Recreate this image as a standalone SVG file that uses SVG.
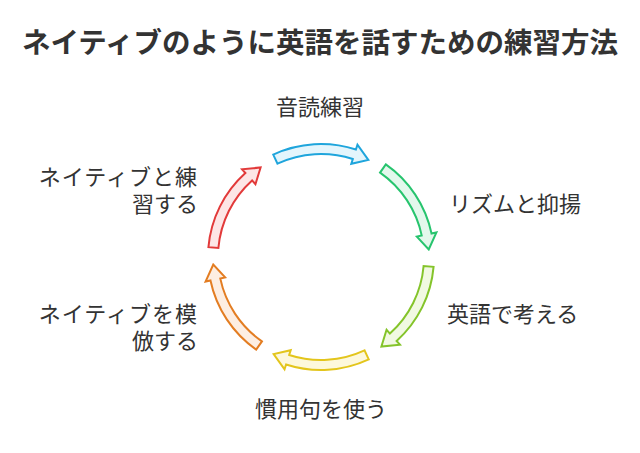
<svg xmlns="http://www.w3.org/2000/svg" width="640" height="453" viewBox="0 0 640 453">
  <style>
    .title { font-family: "Noto Sans CJK JP", "Noto Sans", sans-serif; font-size: 28.5px; font-weight: bold; fill: #333333; }
    .label { font-family: "Noto Sans CJK JP", "Noto Sans", sans-serif; font-size: 22px; fill: #333333; }
    .arrow { stroke-width: 2; stroke-linejoin: miter; }
  </style>
  <defs>
    <!-- One curved arrow segment of the cycle, drawn at the top of the ring (centre 321,257) -->
    <path id="seg" d="M273.24,154.59 A113,113 0 0 1 355.92,149.53 L357.46,144.77 L368.34,159.93 L351.28,163.80 L352.83,159.04 A103,103 0 0 0 277.47,163.65 Z"/>
  </defs>
  <rect width="640" height="453" fill="#ffffff"/>

  <text class="title" x="320" y="53" text-anchor="middle">ネイティブのように英語を話すための練習方法</text>

  <g id="connectors">
    <use href="#seg" class="arrow" fill="#e4f5fc" stroke="#1fa5dc"/>
    <use href="#seg" class="arrow" fill="#e3f8ec" stroke="#27c46e" transform="rotate(60 321 257)"/>
    <use href="#seg" class="arrow" fill="#f1f9e2" stroke="#84c42a" transform="rotate(120 321 257)"/>
    <use href="#seg" class="arrow" fill="#fdf8dc" stroke="#e3c51c" transform="rotate(180 321 257)"/>
    <use href="#seg" class="arrow" fill="#fdeee2" stroke="#e37d22" transform="rotate(240 321 257)"/>
    <use href="#seg" class="arrow" fill="#fde6e6" stroke="#e23a3a" transform="rotate(300 321 257)"/>
  </g>

  <g id="step-reading">
    <text class="label" x="320" y="115" text-anchor="middle">音読練習</text>
  </g>
  <g id="step-rhythm">
    <text class="label" x="449" y="212">リズムと抑揚</text>
  </g>
  <g id="step-think">
    <text class="label" x="447" y="322">英語で考える</text>
  </g>
  <g id="step-idioms">
    <text class="label" x="321" y="417" text-anchor="middle">慣用句を使う</text>
  </g>
  <g id="step-imitate">
    <text class="label" text-anchor="end"><tspan x="198" y="322" letter-spacing="1">ネイティブを模</tspan><tspan x="198" y="349">倣する</tspan></text>
  </g>
  <g id="step-practice">
    <text class="label" text-anchor="end"><tspan x="198" y="185" letter-spacing="1">ネイティブと練</tspan><tspan x="198" y="212">習する</tspan></text>
  </g>
</svg>
